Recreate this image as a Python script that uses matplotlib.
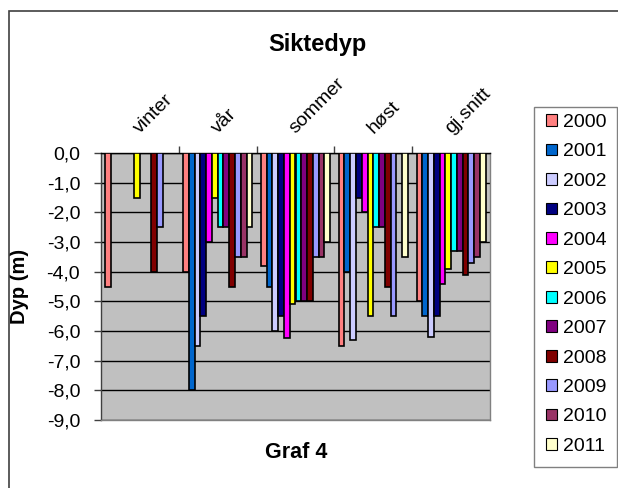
import numpy as np
import matplotlib
matplotlib.use("Agg")
import matplotlib.pyplot as plt
from matplotlib.patches import Rectangle
from matplotlib.ticker import FuncFormatter

plt.rcParams['font.family'] = ['Liberation Sans', 'DejaVu Sans']

# sight depth (m) per season, one value per year 2000-2011 (None = not measured)
years = ['2000', '2001', '2002', '2003', '2004', '2005',
         '2006', '2007', '2008', '2009', '2010', '2011']
seasons = ['vinter', 'vår', 'sommer', 'høst', 'gj.snitt']

vinter = [-4.5, None, None, None, None, -1.5, None, None, -4.0, -2.5, None, None]
vaar = [-4.0, -8.0, -6.5, -5.5, -3.0, -1.5, -2.5, -2.5, -4.5, -3.5, -3.5, -2.5]
sommer = [-3.8, -4.5, -6.0, -5.5, -6.25, -5.1, -5.0, -5.0, -5.0, -3.5, -3.5, -3.0]
hoest = [-6.5, -4.0, -6.3, -1.5, -2.0, -5.5, -2.5, -2.5, -4.5, -5.5, None, -3.5]
snitt = [-5.0, -5.5, -6.2, -5.5, -4.4, -3.9, -3.3, -3.3, -4.1, -3.7, -3.5, -3.0]

colors = ['#FF8080', '#0066CC', '#CCCCFF', '#000080', '#FF00FF', '#FFFF00',
          '#00FFFF', '#800080', '#800000', '#9999FF', '#993366', '#FFFFCC']

table = np.array([vinter, vaar, sommer, hoest, snitt], dtype=float)

W, H = 618, 488
fig = plt.figure(figsize=(W / 100, H / 100), dpi=100)

# outer chart frame (only top and left edges fall inside the image)
fig.patches.append(Rectangle((9 / W, -0.1), 1.2, 1 - 11 / H + 0.1,
                             transform=fig.transFigure, fill=False,
                             edgecolor='#404040', linewidth=1.2))

ax = fig.add_axes([101 / W, 1 - 420 / H, 389 / W, 267 / H])
ax.set_facecolor('#C0C0C0')

n = len(years)
bw = 1 / (n + 1.5)
for j, year in enumerate(years):
    x = np.arange(len(seasons)) + 0.75 * bw + j * bw
    ax.bar(x, table[:, j], width=bw, align='edge', color=colors[j],
           edgecolor='black', linewidth=1.2, label=year, zorder=3)

ax.set_xlim(0, len(seasons))
ax.set_ylim(-9, 0)
ax.set_yticks(np.arange(0, -9.5, -1))
ax.yaxis.set_major_formatter(FuncFormatter(lambda v, p: f"{v:.1f}".replace('.', ',')))
ax.grid(axis='y', color='black', linewidth=1.0, zorder=1)
ax.set_axisbelow(True)

# category axis sits on the zero line at the top
ax.xaxis.tick_top()
ax.set_xticks(np.arange(1, len(seasons)))
ax.set_xticklabels([])
ax.tick_params(axis='x', direction='out', length=5, width=1, color='#404040')
ax.tick_params(axis='y', direction='out', length=5, width=1, color='#404040',
               labelsize=14, pad=10)

for name, sp in ax.spines.items():
    sp.set_linewidth(1.0)
    sp.set_color('#808080')
ax.spines['left'].set_color('#404040')
ax.spines['top'].set_color('black')

for i, s in enumerate(seasons):
    ax.text(i + 0.5, 1 + 19 / 267, s, transform=ax.get_xaxis_transform(),
            rotation=45, rotation_mode='anchor', ha='left', va='baseline',
            fontsize=14)

ax.set_ylabel('Dyp (m)', fontsize=14.5, fontweight='bold')
ax.yaxis.set_label_coords(-72 / 389, 0.5)

fig.text(317 / W, 1 - 44 / H, 'Siktedyp', ha='center', va='center',
         fontsize=17, fontweight='bold')
fig.text(296 / W, 1 - 453 / H, 'Graf 4', ha='center', va='center',
         fontsize=15.5, fontweight='bold')

# legend box drawn separately so its padding can be set freely
fig.patches.append(Rectangle((534 / W, 1 - 467 / H), 83 / W, 360 / H,
                             transform=fig.transFigure, facecolor='white',
                             edgecolor='#808080', linewidth=1.0, zorder=1))
handles, labels = ax.get_legend_handles_labels()
leg = fig.legend(handles, labels, loc='upper left',
                 bbox_to_anchor=(546 / W, 1 - 114 / H),
                 bbox_transform=fig.transFigure, fontsize=14, frameon=False,
                 handlelength=0.55, handleheight=0.55, handletextpad=0.3,
                 labelspacing=0.64, borderpad=0, borderaxespad=0)
leg.set_zorder(5)
for h in leg.legend_handles:
    h.set_linewidth(0.8)

fig.savefig('out.png', dpi=100)
